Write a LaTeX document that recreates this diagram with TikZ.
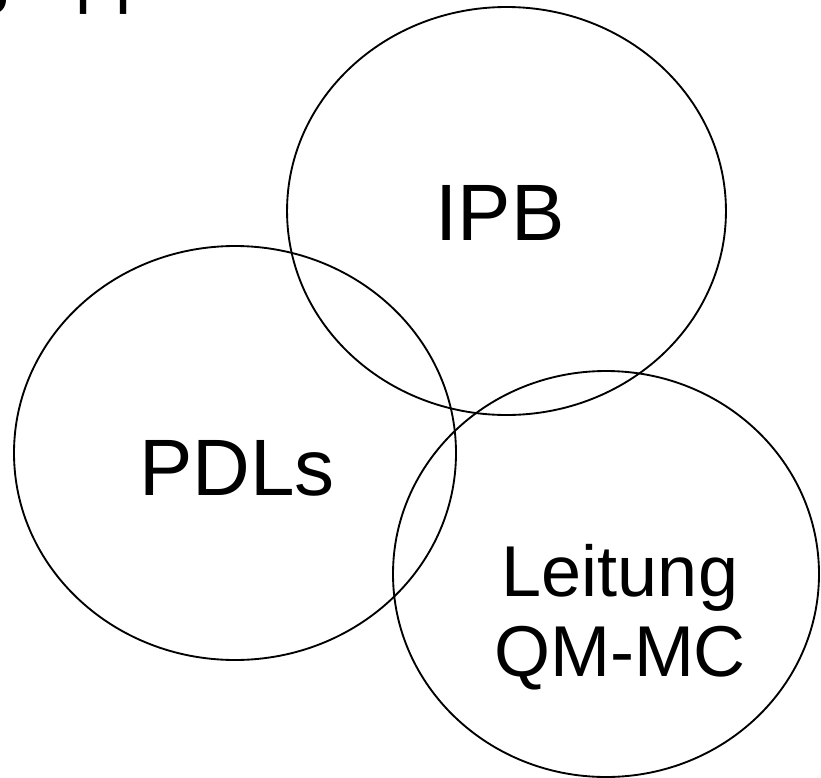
\documentclass[tikz,border=0pt]{standalone}
\usepackage{fontspec}
\setmainfont{Liberation Sans}
\begin{document}
\begin{tikzpicture}[x=0.75pt,y=-0.75pt,
  ring/.style={draw=black,line width=1.4pt},
  big/.style={font=\fontsize{54}{60}\selectfont,align=center,inner sep=0pt},
  bigger/.style={font=\fontsize{60}{66}\selectfont,align=center,inner sep=0pt}]
\useasboundingbox (0,0) rectangle (821,778);
\clip (0,0) rectangle (821,778);
\fill[white] (0,0) rectangle (821,778);
% heading, only its descenders reach into the frame
\node[big,anchor=base west] (head) at (-29,-1) {gruppe};
% the three overlapping groups
\draw[ring] (506.5,211) ellipse [x radius=164.6pt, y radius=153pt];
\draw[ring] (235,453) ellipse [x radius=165.75pt, y radius=155.25pt];
\draw[ring] (606,574) ellipse [x radius=159.75pt, y radius=152.25pt];
\node[bigger] (ipb) at (500,213) {IPB};
\node[bigger] (pdl) at (237,468) {PDLs};
\node[big] (qm) at (620,617) {Leitung\\QM-MC};
\end{tikzpicture}
\end{document}
